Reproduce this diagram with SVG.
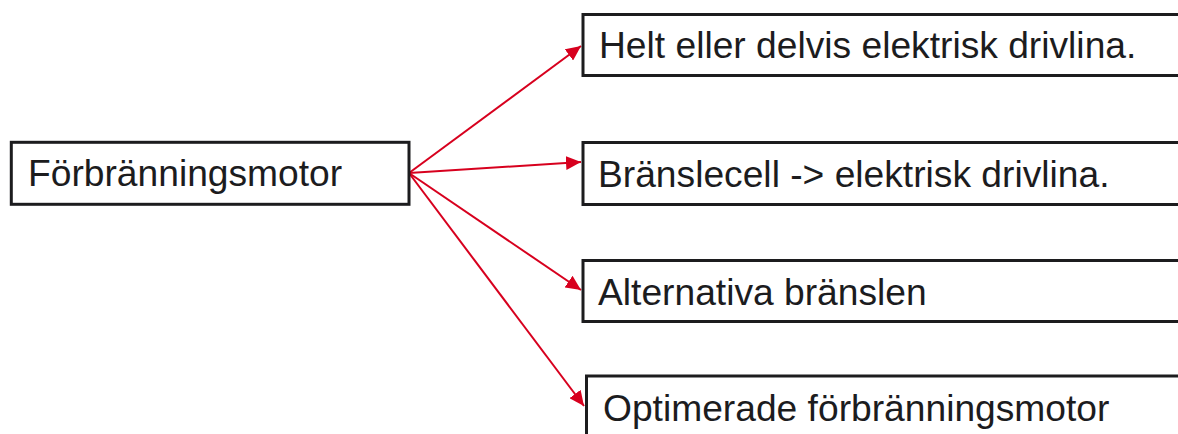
<svg xmlns="http://www.w3.org/2000/svg" width="1178" height="434" viewBox="0 0 1178 434">
<style>
.box{fill:#ffffff;stroke:#1c1c1e;stroke-width:3}
.lbl{font-family:"Liberation Sans",Arial,sans-serif;font-size:37.2px;fill:#1c1c1e}
.conn{stroke:#d7001e;stroke-width:2;fill:none}
</style>
<defs>
<marker id="ah" markerUnits="userSpaceOnUse" markerWidth="16" markerHeight="14" refX="15" refY="7" orient="auto">
<path d="M0,0 L15,7 L0,14 Z" fill="#d7001e"/>
</marker>
</defs>
<g id="connectors">
<line class="conn" x1="409" y1="173" x2="581" y2="46" marker-end="url(#ah)"/>
<line class="conn" x1="409" y1="173" x2="581" y2="162" marker-end="url(#ah)"/>
<line class="conn" x1="409" y1="173" x2="581" y2="290" marker-end="url(#ah)"/>
<line class="conn" x1="409" y1="173" x2="584" y2="406" marker-end="url(#ah)"/>
</g>
<g id="node-source">
<rect class="box" x="11.3" y="142.3" width="397.7" height="62"/>
<text class="lbl" x="28" y="186">Förbränningsmotor</text>
</g>
<g id="node-1">
<rect class="box" x="583" y="14.5" width="610" height="61"/>
<text class="lbl" x="599" y="58.3">Helt eller delvis elektrisk drivlina.</text>
</g>
<g id="node-2">
<rect class="box" x="583" y="142.5" width="610" height="62"/>
<text class="lbl" x="598" y="186.7">Bränslecell -&gt; elektrisk drivlina.</text>
</g>
<g id="node-3">
<rect class="box" x="583" y="260.5" width="610" height="61"/>
<text class="lbl" x="598" y="304.5">Alternativa bränslen</text>
</g>
<g id="node-4">
<rect class="box" x="586.5" y="376" width="610" height="70"/>
<text class="lbl" x="603" y="420.5">Optimerade förbränningsmotor</text>
</g>
</svg>
